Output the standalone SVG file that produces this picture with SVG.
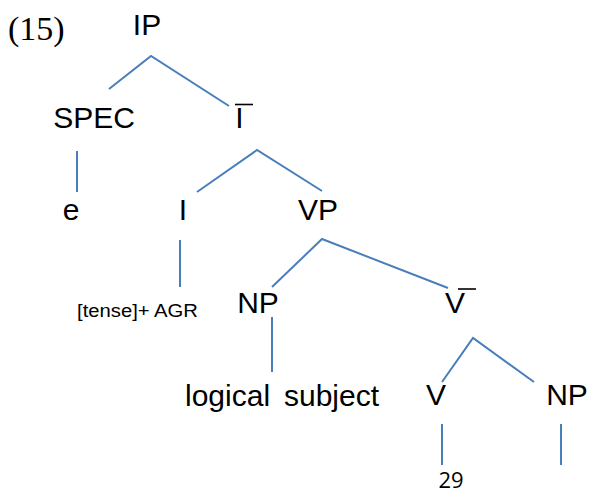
<svg xmlns="http://www.w3.org/2000/svg" width="590" height="495" viewBox="0 0 590 495">
  <style>
    .lbl { font-family: "Liberation Sans", Arial, sans-serif; font-size: 30px; fill: #000; text-anchor: middle; }
    .small { font-family: "Liberation Sans", Arial, sans-serif; font-size: 17.5px; fill: #000; }
    .num { font-family: "Open Sans", "Noto Sans", sans-serif; font-size: 22px; fill: #000; text-anchor: middle; }
    .ex { font-family: "Liberation Serif", "Times New Roman", serif; font-size: 34px; fill: #000; }
    .edge { stroke: #4A7EBB; stroke-width: 2; fill: none; }
    .bar { stroke: #000; stroke-width: 1.6; }
  </style>
  <rect width="590" height="495" fill="#fff"/>

  <text class="ex" x="8" y="40">(15)</text>

  <!-- tree edges -->
  <g id="connectors">
    <polyline class="edge" points="109,89 151,56 229,106"/>
    <line class="edge" x1="77" y1="151" x2="77" y2="192"/>
    <polyline class="edge" points="197,192 257,150 322,191"/>
    <line class="edge" x1="180" y1="240" x2="180" y2="287"/>
    <polyline class="edge" points="272,287 322,239 448,288"/>
    <line class="edge" x1="272" y1="317" x2="272" y2="372"/>
    <polyline class="edge" points="442,382 473,338 534,382"/>
    <line class="edge" x1="442" y1="424" x2="442" y2="465"/>
    <line class="edge" x1="561" y1="424" x2="561" y2="465"/>
  </g>

  <g id="IP"><text class="lbl" x="147" y="35">IP</text></g>
  <g id="SPEC"><text class="lbl" x="94" y="128">SPEC</text></g>
  <g id="Ibar">
    <text class="lbl" x="239.5" y="128">I</text>
    <line class="bar" x1="235" y1="104.5" x2="253" y2="104.5"/>
  </g>
  <g id="e"><text class="lbl" x="71" y="220">e</text></g>
  <g id="I"><text class="lbl" x="183" y="220">I</text></g>
  <g id="VP"><text class="lbl" x="318" y="220">VP</text></g>
  <g id="tense-agr"><text class="small" x="77" y="317" textLength="121" lengthAdjust="spacingAndGlyphs">[tense]+ AGR</text></g>
  <g id="NP-subj"><text class="lbl" x="258" y="313">NP</text></g>
  <g id="Vbar">
    <text class="lbl" x="455" y="313">V</text>
    <line class="bar" x1="458" y1="289" x2="476" y2="289"/>
  </g>
  <g id="logical-subject"><text class="lbl" y="406" style="text-anchor:start"><tspan x="185">logical</tspan> <tspan x="284">subject</tspan></text></g>
  <g id="V"><text class="lbl" x="436" y="405">V</text></g>
  <g id="NP-obj"><text class="lbl" x="567" y="405">NP</text></g>
  <g id="n29"><text class="num" x="451" y="488">29</text></g>
</svg>
